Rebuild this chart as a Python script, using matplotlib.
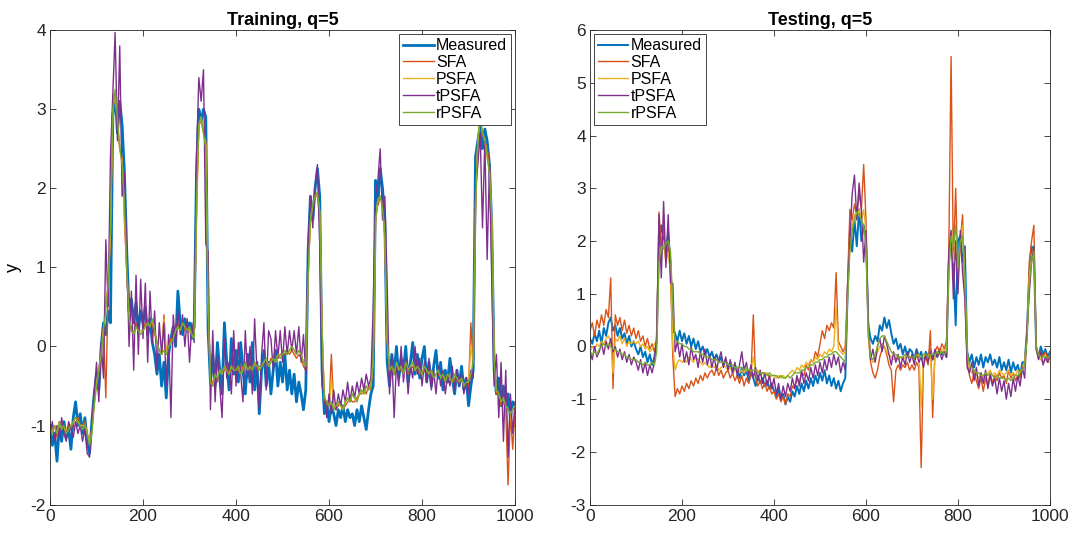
import numpy as np
import matplotlib
matplotlib.use('Agg')
import matplotlib.pyplot as plt

plt.rcParams['font.family'] = ['Liberation Sans', 'DejaVu Sans']
plt.rcParams['axes.unicode_minus'] = False

# sample index, every 5th step from 0 to 1000
t = np.arange(0, 1001, 5)

labels = ['Measured', 'SFA', 'PSFA', 'tPSFA', 'rPSFA']
colors = ['#0072BD', '#D95319', '#EDB120', '#7E2F8E', '#77AC30']

# ---- training set ----
tr_measured = [
    -1.0, -1.25, -1.1, -1.45, -1.0, -1.2, -0.95, -1.15, -1.05, -1.3, -0.9, -0.7, -1.0, -0.85, -1.1, -0.9, -1.2, -1.35, -0.95, -0.6,
    -0.35, -0.55, 0.0, 0.3, 0.15, 0.45, 0.3, 2.9, 3.2, 2.7, 3.1, 2.8, 2.2, 1.2, 0.45, 0.6, 0.3, 0.55, 0.2, 0.45,
    0.3, 0.5, 0.15, 0.35, 0.05, -0.1, -0.35, -0.1, -0.5, -0.2, -0.65, -0.1, 0.1, 0.25, 0.0, 0.7, 0.3, 0.15, 0.35, 0.2,
    0.3, 0.1, 0.25, 2.2, 3.0, 2.85, 3.0, 2.9, 0.2, -0.45, -0.1, -0.5, 0.05, -0.3, -0.6, 0.3, -0.2, -0.55, 0.1, -0.35,
    -0.05, -0.45, 0.05, -0.3, -0.6, -0.1, -0.45, 0.05, -0.55, -0.2, -0.85, -0.3, -0.05, -0.5, -0.2, -0.6, -0.3, -0.05, -0.5, -0.2,
    -0.45, -0.1, -0.55, -0.3, -0.6, -0.35, -0.7, -0.45, -0.6, -0.8, -0.55, 1.2, 1.9, 1.6, 2.0, 2.25, 1.9, -0.3, -0.85, -0.7,
    -0.95, -0.75, -0.85, -1.0, -0.8, -0.9, -0.75, -0.95, -0.8, -0.9, -0.85, -1.0, -0.8, -0.95, -0.75, -0.9, -1.05, -0.8, -0.6, -0.5,
    2.1, 1.8, 2.25, 2.0, 1.6, -0.2, -0.5, -0.1, -0.35, 0.0, -0.4, -0.15, -0.3, 0.0, -0.45, -0.2, 0.05, -0.35, -0.1, -0.4,
    -0.15, 0.0, -0.45, -0.2, -0.5, -0.25, -0.05, -0.4, -0.2, -0.55, -0.3, -0.45, -0.15, -0.4, -0.6, -0.3, -0.5, -0.25, -0.55, -0.4,
    -0.75, -0.5, -0.3, 2.4, 2.6, 2.8, 2.5, 2.75, 2.6, 2.3, 1.5, -0.3, -0.6, -0.4, -0.75, -0.5, -0.8, -0.6, -0.9, -0.7,
    -0.75,
]
tr_sfa = [
    -1.0, -1.05, -1.0, -1.15, -0.95, -1.0, -1.05, -1.1, -1.0, -1.05, -0.95, -0.9, -0.9, -1.0, -1.0, -0.95, -1.1, -1.2, -1.05, -0.7,
    -0.45, -0.3, -0.05, 0.25, -0.65, 0.7, 1.4, 3.0, 3.2, 2.8, 2.5, 2.4, 1.6, 0.95, 0.3, 0.25, 0.15, 0.3, 0.2, 0.2,
    0.2, 0.3, 0.25, 0.3, 0.3, 0.15, 0.05, -0.05, -0.1, 0.4, -0.1, 0.0, 0.1, 0.1, 0.2, 0.3, 0.2, 0.3, 0.2, 0.25,
    0.2, 0.15, 0.1, 1.7, 2.8, 2.85, 2.7, 2.6, 0.5, -0.5, -0.45, -0.35, -0.45, -0.3, -0.35, -0.3, -0.25, -0.35, -0.3, -0.25,
    -0.3, -0.3, -0.35, -0.25, -0.2, -0.3, -0.3, -0.25, -0.2, -0.3, -0.25, -0.25, -0.2, -0.2, -0.25, -0.15, -0.2, -0.15, -0.15, -0.1,
    -0.1, -0.1, -0.05, -0.1, -0.05, -0.1, -0.15, -0.1, -0.15, -0.25, -0.3, 0.9, 1.6, 1.75, 1.9, 1.9, 1.6, 0.2, -0.7, -0.75,
    -0.75, -0.1, -0.75, -0.8, -0.75, -0.7, -0.8, -0.75, -0.7, -0.65, -0.7, -0.7, -0.65, -0.6, -0.6, -0.55, -0.6, -0.5, -0.55, -0.2,
    1.6, 1.8, 1.9, 1.8, 1.4, 0.1, -0.35, -0.3, -0.35, -0.25, -0.3, -0.3, -0.35, -0.2, -0.35, -0.3, -0.25, -0.3, -0.3, -0.35,
    -0.35, -0.3, -0.35, -0.3, -0.35, -0.4, -0.35, -0.35, -0.4, -0.4, -0.45, -0.4, -0.4, -0.45, -0.4, -0.45, -0.45, -0.4, -0.5, -0.5,
    -0.5, 0.3, -0.25, 1.7, 2.6, 2.9, 2.7, 2.6, 2.5, 2.3, 1.5, -0.25, -0.6, -0.6, -0.75, -0.7, -0.8, -1.75, -0.85, -1.3,
    -0.8,
]
tr_psfa = [
    -1.05, -1.05, -1.0, -1.1, -1.0, -1.0, -1.05, -1.05, -1.0, -1.0, -0.95, -0.95, -0.95, -1.0, -1.0, -1.0, -1.1, -1.2, -1.05, -0.75,
    -0.45, -0.3, -0.1, 0.2, 0.6, 0.75, 1.45, 3.0, 3.2, 2.85, 2.5, 2.35, 1.7, 1.0, 0.3, 0.2, 0.15, 0.25, 0.2, 0.2,
    0.2, 0.25, 0.3, 0.25, 0.3, 0.2, 0.05, -0.05, -0.1, 0.35, -0.1, 0.0, 0.05, 0.1, 0.2, 0.25, 0.2, 0.3, 0.25, 0.2,
    0.2, 0.15, 0.1, 1.7, 2.8, 2.9, 2.7, 2.55, 0.55, -0.45, -0.5, -0.35, -0.4, -0.3, -0.35, -0.25, -0.3, -0.35, -0.25, -0.3,
    -0.3, -0.25, -0.35, -0.3, -0.2, -0.3, -0.25, -0.3, -0.2, -0.25, -0.3, -0.25, -0.2, -0.15, -0.25, -0.2, -0.15, -0.2, -0.1, -0.15,
    -0.1, -0.05, -0.1, -0.05, 0.0, -0.05, -0.1, -0.05, -0.1, -0.2, -0.25, 0.9, 1.6, 1.8, 1.9, 1.95, 1.7, 0.2, -0.65, -0.7,
    -0.75, -0.4, -0.8, -0.75, -0.7, -0.75, -0.8, -0.7, -0.65, -0.7, -0.6, -0.65, -0.7, -0.6, -0.55, -0.6, -0.5, -0.55, -0.5, -0.2,
    1.6, 1.85, 1.9, 1.75, 1.4, 0.1, -0.3, -0.25, -0.35, -0.2, -0.3, -0.25, -0.35, -0.2, -0.3, -0.25, -0.2, -0.3, -0.25, -0.3,
    -0.35, -0.25, -0.3, -0.35, -0.3, -0.4, -0.35, -0.3, -0.4, -0.35, -0.45, -0.35, -0.4, -0.45, -0.35, -0.4, -0.45, -0.4, -0.5, -0.45,
    -0.45, 0.0, -0.2, 1.8, 2.6, 2.9, 2.7, 2.6, 2.4, 2.2, 1.6, -0.2, -0.55, -0.6, -0.7, -0.65, -0.75, -1.2, -0.85, -0.8,
    -0.75,
]
tr_tpsfa = [
    -1.1, -0.95, -1.2, -1.0, -1.15, -0.9, -1.1, -1.2, -0.95, -1.05, -1.15, -0.95, -1.1, -1.0, -1.2, -1.05, -1.35, -1.4, -1.0, -0.6,
    -0.2, -0.7, 0.05, -0.4, 1.35, 0.5, 2.4, 3.2, 3.97, 2.6, 3.8, 1.9, 2.2, 1.2, 0.0, 0.7, -0.3, 0.9, -0.1, 0.85,
    0.1, 0.8, -0.2, 0.7, 0.05, 0.45, -0.3, 0.3, -0.1, 0.3, -0.5, 0.15, -0.9, 0.4, 0.0, 0.45, 0.15, 0.4, 0.0, 0.35,
    -0.2, 0.3, 0.05, 2.4, 3.4, 3.1, 3.5, 1.3, 1.2, -0.8, 0.2, -0.7, -0.1, -0.5, -0.9, 0.1, -0.4, -0.2, -0.6, 0.2,
    -0.5, 0.05, -0.35, -0.7, 0.2, -0.4, 0.0, -0.6, 0.35, -0.3, -0.8, -0.1, 0.3, -0.55, 0.2, 0.1, -0.3, 0.2, -0.15, 0.2,
    -0.2, 0.25, -0.1, 0.2, -0.05, 0.2, -0.1, 0.25, -0.2, 0.15, -0.35, 1.3, 1.9, 1.5, 2.0, 2.3, 1.3, -0.5, -0.6, -0.9,
    -0.6, -0.85, -0.55, -0.8, -0.6, -0.75, -0.55, -0.7, -0.45, -0.7, -0.5, -0.65, -0.45, -0.6, -0.4, -0.55, -0.35, -0.5, -0.4, 0.5,
    1.9, 2.1, 2.5, 1.6, 1.9, 0.8, -0.6, -0.1, -0.9, -0.2, -0.5, 0.0, -0.45, -0.15, -0.6, -0.25, -0.4, 0.0, -0.35, -0.15,
    -0.5, -0.2, -0.45, -0.15, -0.55, -0.3, -0.6, -0.25, -0.5, -0.3, -0.6, -0.35, -0.5, -0.25, -0.55, -0.3, -0.5, -0.35, -0.6, -0.4,
    -0.6, -0.3, -0.4, 2.0, 2.3, 2.7, 1.5, 2.6, 1.1, 2.3, 0.8, -0.5, -0.1, -0.9, -0.2, -1.2, -0.3, -1.4, -0.6, -1.1,
    -0.7,
]
tr_rpsfa = [
    -1.05, -1.1, -1.0, -1.1, -0.95, -1.05, -1.0, -1.1, -1.05, -1.0, -0.95, -0.9, -0.95, -1.0, -1.05, -1.0, -1.1, -1.25, -1.1, -0.75,
    -0.5, -0.3, -0.1, 0.2, 0.45, 0.8, 1.5, 3.0, 3.25, 2.9, 2.5, 2.3, 1.8, 1.0, 0.35, 0.2, 0.15, 0.25, 0.2, 0.15,
    0.2, 0.25, 0.3, 0.25, 0.35, 0.2, 0.05, -0.05, -0.1, -0.05, -0.1, 0.0, 0.05, 0.1, 0.2, 0.25, 0.2, 0.3, 0.25, 0.2,
    0.25, 0.15, 0.1, 1.8, 2.8, 2.9, 2.7, 2.5, 0.6, -0.45, -0.5, -0.35, -0.4, -0.3, -0.35, -0.25, -0.3, -0.35, -0.25, -0.3,
    -0.3, -0.25, -0.35, -0.3, -0.2, -0.3, -0.25, -0.3, -0.2, -0.25, -0.3, -0.25, -0.2, -0.15, -0.25, -0.2, -0.15, -0.2, -0.1, -0.15,
    -0.1, -0.05, -0.1, -0.05, 0.0, -0.05, -0.1, -0.05, -0.1, -0.2, -0.25, 0.9, 1.6, 1.8, 1.9, 1.95, 1.7, 0.2, -0.65, -0.7,
    -0.75, -0.7, -0.8, -0.75, -0.7, -0.75, -0.8, -0.7, -0.65, -0.7, -0.6, -0.65, -0.7, -0.6, -0.55, -0.6, -0.5, -0.55, -0.5, -0.2,
    1.6, 1.85, 1.9, 1.75, 1.4, 0.1, -0.3, -0.25, -0.35, -0.2, -0.3, -0.25, -0.35, -0.2, -0.3, -0.25, -0.2, -0.3, -0.25, -0.3,
    -0.35, -0.25, -0.3, -0.35, -0.3, -0.4, -0.35, -0.3, -0.4, -0.35, -0.45, -0.35, -0.4, -0.45, -0.35, -0.4, -0.45, -0.4, -0.5, -0.45,
    -0.45, -0.35, -0.2, 1.8, 2.6, 2.9, 2.7, 2.6, 2.4, 2.2, 1.6, -0.2, -0.55, -0.6, -0.7, -0.65, -0.75, -0.8, -0.85, -0.8,
    -0.75,
]

# ---- testing set ----
te_measured = [
    0.15, 0.05, 0.25, 0.1, 0.3, 0.05, 0.35, 0.2, 0.45, 0.55, 0.3, 0.4, 0.2, 0.35, 0.15, 0.25, 0.05, 0.2, 0.0, 0.1,
    -0.05, -0.15, 0.0, -0.2, -0.1, -0.3, -0.15, -0.35, -0.2, 0.1, 2.0, 2.3, 2.0, 1.8, 2.15, 1.6, 0.3, 0.25, 0.1, 0.3,
    0.1, 0.25, 0.05, 0.2, 0.0, 0.15, -0.05, 0.1, -0.1, 0.0, -0.15, -0.05, -0.2, -0.1, -0.25, -0.15, -0.3, -0.2, -0.35, -0.25,
    -0.4, -0.3, -0.5, -0.35, -0.45, -0.6, -0.4, -0.55, -0.45, -0.65, -0.5, -0.6, -0.75, -0.55, -0.7, -0.6, -0.75, -0.65, -0.8, -0.7,
    -0.85, -0.95, -0.8, -1.0, -0.9, -1.1, -0.95, -1.05, -0.85, -0.95, -0.75, -0.9, -0.7, -0.85, -0.65, -0.8, -0.6, -0.75, -0.55, -0.7,
    -0.5, -0.65, -0.45, -0.7, -0.55, -0.75, -0.6, -0.8, -0.65, -0.85, -0.7, -0.6, 1.0, 2.2, 1.8, 2.4, 1.9, 2.6, 2.0, 2.3,
    2.1, 0.4, 0.15, 0.05, 0.2, 0.1, 0.4, 0.3, 0.55, 0.35, 0.5, 0.25, 0.05, 0.15, -0.05, 0.05, -0.15, 0.0, -0.2, -0.05,
    -0.1, -0.25, -0.05, -0.2, -0.1, -0.3, -0.1, -0.2, -0.05, -0.25, -0.1, -0.2, -0.05, -0.15, -0.1, -0.2, 1.6, 2.0, 1.5, 0.4,
    2.0, 2.1, 1.6, 1.9, -0.1, -0.3, -0.15, -0.4, -0.2, -0.35, -0.15, -0.4, -0.2, -0.3, -0.15, -0.35, -0.25, -0.4, -0.2, -0.45,
    -0.3, -0.45, -0.25, -0.5, -0.3, -0.45, -0.35, -0.55, -0.3, -0.3, 0.3, 1.4, 1.9, 1.8, -0.05, -0.2, 0.0, -0.15, -0.05, -0.2,
    -0.1,
]
te_sfa = [
    0.3, 0.45, 0.2, 0.5, 0.35, 0.6, 0.4, 0.7, 0.55, 1.3, -0.8, 0.6, 0.4, 0.55, 0.3, 0.5, 0.25, 0.4, 0.2, 0.35,
    0.15, 0.3, 0.1, 0.2, 0.0, 0.15, -0.05, 0.05, -0.1, 0.1, 2.55, 1.9, 2.3, 1.6, 1.9, 1.4, -0.2, -0.95, -0.8, -0.9,
    -0.75, -0.85, -0.7, -0.8, -0.65, -0.75, -0.6, -0.7, -0.55, -0.65, -0.5, -0.6, -0.5, -0.45, -0.55, -0.4, -0.55, -0.45, -0.6, -0.5,
    -0.45, -0.6, -0.5, -0.65, -0.55, -0.7, -0.55, -0.75, -0.6, -0.7, -0.55, 0.6, -0.6, -0.75, -0.65, -0.8, -0.7, -0.85, -0.75, -0.9,
    -0.85, -1.0, -0.9, -1.05, -0.95, -1.1, -0.9, -0.95, -0.75, -0.8, -0.6, -0.7, -0.5, -0.55, -0.35, -0.45, -0.25, -0.3, -0.1, -0.2,
    0.05, 0.3, 0.15, 0.4, 0.3, 0.45, 0.35, 1.4, 0.1, 0.0, -0.1, 0.0, 1.2, 2.6, 2.4, 2.7, 2.5, 2.9, 2.6, 3.45,
    2.4, 0.2, -0.3, -0.5, -0.6, -0.45, -0.2, -0.05, 0.0, -0.15, -0.35, -0.45, -1.05, -0.45, -0.35, -0.45, -0.35, -0.4, -0.3, -0.45,
    -0.35, -0.45, -0.3, -0.4, -2.3, -0.3, -0.2, -0.35, 0.3, -1.35, -0.1, 0.0, -0.1, 0.05, -0.05, 0.1, 1.8, 5.5, 1.6, 3.0,
    1.3, 2.0, 2.5, 1.0, -0.3, -0.55, -0.7, -0.5, -0.65, -0.8, -0.6, -0.85, -0.6, -0.75, -0.5, -0.7, -0.55, -0.65, -0.5, -0.6,
    -0.55, -0.7, -0.45, -0.6, -0.5, -0.65, -0.55, -0.6, -0.4, -0.3, 0.2, 1.6, 2.0, 2.3, 0.0, -0.15, -0.1, -0.2, -0.1, -0.25,
    -0.15,
]
te_psfa = [
    -0.1, 0.0, -0.05, 0.05, 0.0, 0.1, 0.05, 0.15, 0.2, 0.1, -0.5, 0.15, 0.1, 0.2, 0.05, 0.15, 0.0, 0.1, 0.05, 0.1,
    0.05, 0.1, 0.0, 0.05, -0.05, 0.0, -0.1, -0.05, 0.05, 0.1, 1.9, 1.7, 2.0, 1.6, 1.8, 1.4, 0.0, -0.45, -0.3, -0.25,
    -0.3, -0.25, -0.3, -0.2, -0.25, -0.3, -0.2, -0.25, -0.3, -0.35, -0.3, -0.35, -0.4, -0.35, -0.4, -0.35, -0.45, -0.4, -0.35, -0.4,
    -0.45, -0.4, -0.5, -0.45, -0.4, -0.5, -0.45, -0.5, -0.45, -0.5, -0.45, -0.2, -0.5, -0.45, -0.55, -0.5, -0.55, -0.5, -0.6, -0.55,
    -0.55, -0.6, -0.55, -0.6, -0.55, -0.6, -0.55, -0.5, -0.45, -0.5, -0.4, -0.45, -0.35, -0.4, -0.3, -0.35, -0.25, -0.3, -0.2, -0.25,
    -0.15, -0.2, -0.1, -0.15, -0.05, -0.1, 0.0, 0.75, -0.05, -0.1, -0.15, -0.1, 1.0, 2.0, 2.3, 2.5, 2.4, 2.6, 2.4, 2.6,
    2.2, 0.2, -0.2, -0.3, -0.25, -0.1, 0.0, 0.05, 0.0, -0.1, -0.15, -0.2, -0.25, -0.2, -0.25, -0.2, -0.25, -0.2, -0.15, -0.2,
    -0.2, -0.25, -0.2, -0.15, -1.15, -0.2, -0.15, -0.2, -0.1, -1.0, -0.15, -0.1, -0.15, -0.05, -0.1, -0.05, 1.5, 2.2, 1.6, 2.0,
    1.4, 1.8, 2.3, 1.2, -0.2, -0.4, -0.5, -0.45, -0.55, -0.6, -0.5, -0.6, -0.55, -0.5, -0.45, -0.55, -0.5, -0.55, -0.45, -0.5,
    -0.55, -0.5, -0.45, -0.55, -0.5, -0.55, -0.45, -0.5, -0.4, -0.3, 0.2, 1.3, 1.7, 1.9, -0.05, -0.2, -0.25, -0.3, -0.25, -0.3,
    -0.3,
]
te_tpsfa = [
    -0.1, -0.25, 0.0, -0.2, -0.1, 0.05, -0.15, 0.1, -0.05, 0.15, -0.1, 0.0, -0.2, -0.05, -0.25, -0.1, -0.3, -0.15, -0.35, -0.2,
    -0.3, -0.45, -0.25, -0.5, -0.3, -0.55, -0.35, -0.5, -0.3, 0.2, 2.5, 1.3, 2.75, 1.5, 2.5, 1.2, 1.2, -0.1, 0.1, -0.2,
    0.05, -0.3, -0.1, -0.35, 0.0, -0.25, -0.15, -0.4, -0.1, -0.3, -0.05, -0.35, -0.15, -0.4, -0.2, -0.45, -0.25, -0.1, -0.4, -0.2,
    -0.45, -0.25, -0.5, -0.3, -0.55, -0.35, -0.1, -0.45, -0.3, -0.55, -0.35, -0.6, -0.4, -0.65, -0.45, -0.7, -0.5, -0.75, -0.55, -0.8,
    -0.6, -0.9, -0.7, -1.0, -0.75, -0.95, -0.7, -0.85, -0.6, -0.8, -0.55, -0.75, -0.45, -0.7, -0.5, -0.65, -0.4, -0.6, -0.35, -0.55,
    -0.3, -0.5, -0.25, -0.45, -0.2, -0.4, -0.15, -0.35, -0.2, -0.5, -0.3, -0.45, 1.1, 2.0, 2.9, 3.25, 2.4, 3.1, 2.6, 1.6,
    2.2, 0.5, -0.25, -0.05, -0.3, 0.0, 0.15, -0.1, 0.2, 0.05, -0.15, -0.35, -0.1, -0.3, -0.15, -0.4, -0.2, -0.35, -0.1, -0.3,
    -0.15, -0.35, -0.1, -0.3, -0.2, -0.4, -0.15, -0.3, -0.1, -0.25, -0.05, -0.2, -0.1, -0.25, -0.1, -0.2, 1.8, 2.2, 0.9, 2.0,
    1.0, 2.2, 1.4, 0.9, -0.4, -0.5, -0.3, -0.65, -0.4, -0.75, -0.5, -0.7, -0.45, -0.8, -0.55, -0.75, -0.6, -0.9, -0.6, -0.85,
    -0.65, -1.0, -0.7, -0.95, -0.6, -0.85, -0.55, -0.75, -0.4, -0.6, 0.3, 1.0, 1.6, 1.9, 0.0, -0.25, -0.1, -0.35, -0.2, -0.3,
    -0.2,
]
te_rpsfa = [
    -0.1, -0.15, -0.1, -0.15, -0.05, 0.0, 0.05, 0.0, 0.05, 0.0, -0.05, -0.05, -0.1, -0.1, -0.15, -0.15, -0.2, -0.2, -0.25, -0.25,
    -0.25, -0.3, -0.3, -0.35, -0.3, -0.35, -0.35, -0.3, -0.35, -0.1, 1.6, 1.9, 1.85, 1.95, 2.0, 1.8, 0.8, 0.1, 0.1, 0.05,
    0.05, 0.0, 0.0, -0.05, -0.05, -0.1, -0.1, -0.1, -0.15, -0.15, -0.2, -0.2, -0.2, -0.25, -0.25, -0.25, -0.3, -0.3, -0.3, -0.3,
    -0.35, -0.35, -0.35, -0.4, -0.4, -0.4, -0.4, -0.45, -0.4, -0.45, -0.45, -0.45, -0.45, -0.5, -0.5, -0.5, -0.5, -0.55, -0.5, -0.55,
    -0.55, -0.55, -0.6, -0.55, -0.6, -0.6, -0.55, -0.6, -0.55, -0.5, -0.5, -0.5, -0.45, -0.45, -0.4, -0.4, -0.35, -0.35, -0.3, -0.3,
    -0.25, -0.25, -0.2, -0.2, -0.15, -0.15, -0.1, -0.1, -0.15, -0.2, -0.25, -0.3, 0.9, 1.8, 2.2, 2.4, 2.55, 2.5, 2.4, 2.3,
    1.9, 0.3, -0.2, -0.25, -0.15, 0.0, 0.15, 0.2, 0.2, 0.1, 0.0, -0.1, -0.15, -0.15, -0.2, -0.2, -0.2, -0.15, -0.2, -0.2,
    -0.2, -0.2, -0.15, -0.2, -0.2, -0.15, -0.15, -0.2, -0.15, -0.15, -0.15, -0.1, -0.15, -0.1, -0.15, -0.1, 1.4, 2.1, 1.9, 2.3,
    1.5, 2.0, 2.1, 1.3, -0.1, -0.35, -0.4, -0.45, -0.5, -0.5, -0.55, -0.55, -0.5, -0.55, -0.5, -0.55, -0.6, -0.55, -0.6, -0.6,
    -0.6, -0.65, -0.6, -0.65, -0.6, -0.55, -0.55, -0.5, -0.45, -0.35, 0.1, 1.2, 1.6, 1.8, 0.0, -0.15, -0.2, -0.2, -0.2, -0.2,
    -0.2,
]

fig = plt.figure(figsize=(10.8, 5.38), dpi=100)
ax1 = fig.add_axes([0.0463, 0.062, 0.4306, 0.882])
ax2 = fig.add_axes([0.5463, 0.062, 0.4259, 0.882])


def draw_panel(ax, series, widths, title, ylim, yticks, legend_loc):
    for y, lab, c, lw in zip(series, labels, colors, widths):
        ax.plot(t, y, color=c, lw=lw, label=lab)
    ax.set_xlim(0, 1000)
    ax.set_ylim(*ylim)
    ax.set_xticks(range(0, 1001, 200))
    ax.set_yticks(yticks)
    ax.set_title(title, fontsize=13, fontweight='bold', pad=4)
    ax.tick_params(direction='in', top=True, right=True, labelsize=12.5,
                   length=4, width=0.6, color='#262626', labelcolor='#262626', pad=3)
    for s in ax.spines.values():
        s.set_color('#262626')
        s.set_linewidth(0.6)
    leg = ax.legend(loc=legend_loc, fontsize=11.5, handlelength=1.9, handletextpad=0.15,
                    labelspacing=0.12, borderpad=0.25, borderaxespad=0.25,
                    fancybox=False, framealpha=1, edgecolor='#262626')
    leg.get_frame().set_linewidth(0.6)


draw_panel(ax1, [tr_measured, tr_sfa, tr_psfa, tr_tpsfa, tr_rpsfa],
           [2.0, 1.0, 1.0, 1.0, 1.0], 'Training, q=5', (-2, 4), range(-2, 5),
           'upper right')
ax1.set_ylabel('y', fontsize=13, labelpad=6)

draw_panel(ax2, [te_measured, te_sfa, te_psfa, te_tpsfa, te_rpsfa],
           [1.4, 1.0, 1.0, 1.0, 1.0], 'Testing, q=5', (-3, 6), range(-3, 7),
           'upper left')

fig.savefig('out.png', dpi=100)
